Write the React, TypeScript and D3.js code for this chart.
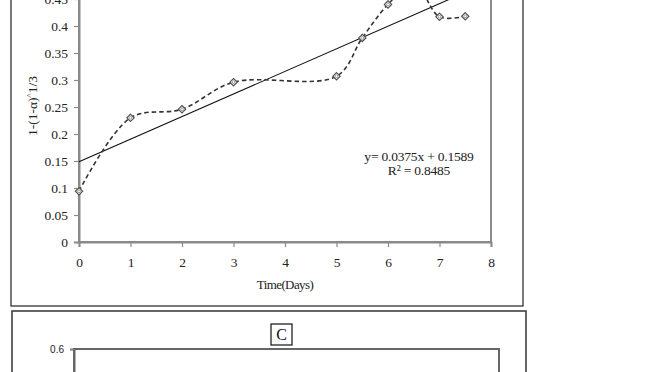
import React, { useEffect, useRef } from 'react';
import * as d3 from 'd3';

// panel B data (days vs 1-(1-a)^1/3)
const days = [0, 1, 2, 3, 5, 5.5, 6, 6.5, 7, 7.5];
const conversion = [0.094, 0.23, 0.246, 0.296, 0.307, 0.378, 0.44, 0.48, 0.417, 0.418];
const yTicksB = [0, 0.05, 0.1, 0.15, 0.2, 0.25, 0.3, 0.35, 0.4, 0.45, 0.5];
const xTicksB = [0, 1, 2, 3, 4, 5, 6, 7, 8];
const equationLines = ['y= 0.0375x + 0.1589', 'R² = 0.8485'];
// panel C (only its top edge is visible)
const yTicksC = [0.6];

const W = 672;
const H = 372;
const AXIS_GRAY = '#8a8a8a';

export default function App() {
  const svgRef = useRef<SVGSVGElement>(null);

  useEffect(() => {
    const svg = d3.select(svgRef.current);
    svg.selectAll('*').remove();

    // outer boxes of panel B and C
    svg.append('rect')
      .attr('x', 11).attr('y', -40).attr('width', 512).attr('height', 346)
      .attr('fill', 'none').attr('stroke', '#222').attr('stroke-width', 1.2);
    svg.append('rect')
      .attr('x', 12).attr('y', 311).attr('width', 514).attr('height', 120)
      .attr('fill', 'none').attr('stroke', '#333').attr('stroke-width', 1.5);

    // ---- panel B ----
    const x = d3.scaleLinear().domain([0, 8]).range([79, 491]);
    const y = d3.scaleLinear().domain([0, 0.5]).range([242, -28]);

    svg.append('rect')
      .attr('x', x(0)).attr('y', y(0.5))
      .attr('width', x(8) - x(0)).attr('height', y(0) - y(0.5))
      .attr('fill', 'none').attr('stroke', AXIS_GRAY).attr('stroke-width', 2);

    const yAxis = svg.append('g')
      .attr('transform', `translate(${x(0)},0)`)
      .call(d3.axisLeft(y).tickValues(yTicksB).tickSize(5).tickPadding(6)
        .tickFormat((d) => String(+(+d).toFixed(2))));
    const xAxis = svg.append('g')
      .attr('transform', `translate(0,${y(0)})`)
      .call(d3.axisBottom(x).tickValues(xTicksB).tickSize(5).tickPadding(10)
        .tickFormat((d) => String(d)));

    [yAxis, xAxis].forEach((ax) => {
      ax.select('.domain').attr('stroke', AXIS_GRAY).attr('stroke-width', 2);
      ax.selectAll('.tick line').attr('stroke', AXIS_GRAY).attr('stroke-width', 1.2);
      ax.selectAll('.tick text')
        .attr('font-family', 'Liberation Serif')
        .attr('font-size', 13.5)
        .attr('fill', '#222');
    });

    // linear trendline (least squares over the series)
    const mx = d3.mean(days) as number;
    const my = d3.mean(conversion) as number;
    const slope = d3.sum(days, (d, i) => (d - mx) * (conversion[i] - my))
      / d3.sum(days, (d) => (d - mx) ** 2);
    const intercept = my - slope * mx;
    const x0 = d3.min(days) as number;
    const x1 = d3.max(days) as number;
    svg.append('line')
      .attr('x1', x(x0)).attr('y1', y(intercept + slope * x0))
      .attr('x2', x(x1)).attr('y2', y(intercept + slope * x1))
      .attr('stroke', '#111').attr('stroke-width', 1.1);

    // smoothed dashed series
    const pts: [number, number][] = days.map((d, i) => [d, conversion[i]]);
    const line = d3.line<[number, number]>()
      .x((d) => x(d[0]))
      .y((d) => y(d[1]))
      .curve(d3.curveCatmullRom.alpha(0.5));
    svg.append('path')
      .attr('d', line(pts))
      .attr('fill', 'none')
      .attr('stroke', '#333')
      .attr('stroke-width', 1.6)
      .attr('stroke-dasharray', '4.5,3');

    const diamond = d3.symbol().type(d3.symbolDiamond2).size(34);
    svg.selectAll('path.marker')
      .data(pts)
      .enter()
      .append('path')
      .attr('class', 'marker')
      .attr('d', diamond)
      .attr('transform', (d) => `translate(${x(d[0])},${y(d[1])})`)
      .attr('fill', '#fff')
      .attr('stroke', '#555')
      .attr('stroke-width', 1.2);
    svg.selectAll('circle.marker-dot')
      .data(pts)
      .enter()
      .append('circle')
      .attr('class', 'marker-dot')
      .attr('cx', (d) => x(d[0]))
      .attr('cy', (d) => y(d[1]))
      .attr('r', 1.4)
      .attr('fill', 'none')
      .attr('stroke', '#888')
      .attr('stroke-width', 0.8);

    // equation
    svg.selectAll('text.eq')
      .data(equationLines)
      .enter()
      .append('text')
      .attr('class', 'eq')
      .attr('x', 419)
      .attr('y', (d, i) => 161 + i * 13.5)
      .attr('text-anchor', 'middle')
      .attr('font-family', 'Liberation Serif')
      .attr('font-size', 13.5)
      .attr('letter-spacing', -0.2)
      .attr('fill', '#222')
      .text((d) => d);

    // axis titles
    svg.append('text')
      .attr('x', (x(0) + x(8)) / 2)
      .attr('y', 289)
      .attr('text-anchor', 'middle')
      .attr('font-family', 'Liberation Serif')
      .attr('font-size', 13)
      .attr('letter-spacing', -0.6)
      .attr('fill', '#222')
      .text('Time(Days)');

    const yTitle = svg.append('text')
      .attr('transform', 'translate(37,106) rotate(-90)')
      .attr('text-anchor', 'middle')
      .attr('font-family', 'Liberation Serif')
      .attr('font-size', 13.5)
      .attr('fill', '#222');
    yTitle.append('tspan').text('1-(1-α)');
    yTitle.append('tspan').attr('dy', -4).attr('font-size', 9).text('^');
    yTitle.append('tspan').attr('dy', 4).text('1/3');

    // ---- panel C ----
    const yC = d3.scaleLinear().domain([0, 0.6]).range([349 + 330, 349]);
    svg.append('rect')
      .attr('x', 74).attr('y', yC(0.6))
      .attr('width', 499 - 74).attr('height', 330)
      .attr('fill', 'none').attr('stroke', '#666').attr('stroke-width', 2);
    const yAxisC = svg.append('g')
      .attr('transform', 'translate(74,0)')
      .call(d3.axisLeft(yC).tickValues(yTicksC).tickSize(4).tickPadding(6)
        .tickFormat((d) => String(d)));
    yAxisC.select('.domain').attr('stroke', '#666').attr('stroke-width', 2);
    yAxisC.selectAll('.tick line').attr('stroke', '#888');
    yAxisC.selectAll('.tick text')
      .attr('font-family', 'Liberation Sans')
      .attr('font-size', 10)
      .attr('fill', '#222');

    svg.append('rect')
      .attr('x', 271).attr('y', 324).attr('width', 21).attr('height', 21)
      .attr('fill', '#fff').attr('stroke', '#111').attr('stroke-width', 1.2);
    svg.append('text')
      .attr('x', 281.5).attr('y', 340)
      .attr('text-anchor', 'middle')
      .attr('font-family', 'Liberation Serif')
      .attr('font-size', 16)
      .attr('fill', '#111')
      .text('C');
  }, []);

  return (
    <svg
      ref={svgRef}
      width={W}
      height={H}
      style={{ position: 'absolute', left: 0, top: 0, background: '#fff' }}
    />
  );
}
